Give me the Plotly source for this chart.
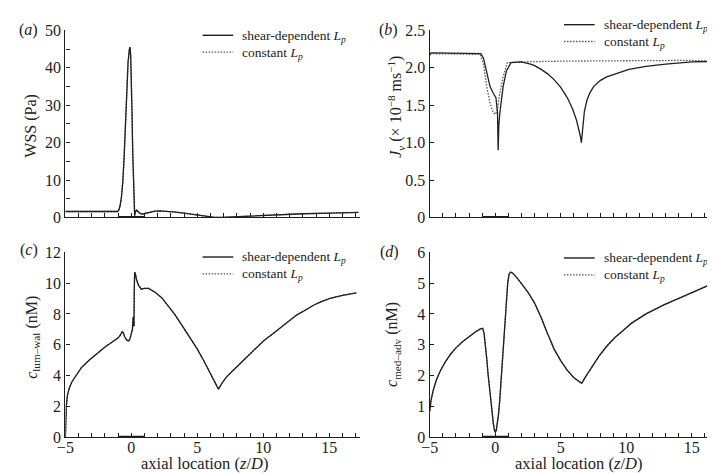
import plotly.graph_objects as go

# ---------------- data ----------------
# (a) wall shear stress (Pa)
x_a = [-5, -3, -1.05, -0.95, -0.85, -0.75, -0.65, -0.55, -0.45, -0.35, -0.25, -0.15, -0.1, -0.05,
       0.0, 0.05, 0.1, 0.15, 0.2, 0.25, 0.3, 0.4, 0.55, 0.75, 0.95, 1.3, 1.7, 2.1, 2.6, 3.2, 4.0,
       5.0, 5.8, 6.3, 6.8, 7.5, 9, 11, 13, 15, 17.2]
wss_shear = [1.6, 1.6, 1.6, 2.0, 3.2, 5.5, 9.5, 16, 25, 34, 41.5, 45, 45.5, 43,
             37, 28, 18, 9, 2.5, 0.5, 1.5, 2.0, 1.4, 0.9, 1.0, 1.35, 1.65, 1.75, 1.7, 1.5, 1.15,
             0.65, 0.25, 0.05, 0.02, 0.15, 0.45, 0.75, 1.0, 1.15, 1.35]
wss_const = wss_shear

# (b) transmural water flux Jv (x 1e-8 m/s)
x_b_shear = [-5, -4.9, -4.7, -3, -1.5, -1.1, -0.9, -0.65, -0.4, -0.15, 0.05, 0.17, 0.22, 0.27,
             0.35, 0.6, 0.85, 1.2, 1.97, 2.7, 3.0, 3.5, 4.0, 4.5, 5.0, 5.5, 5.9, 6.2, 6.4, 6.5,
             6.57, 6.63, 6.7, 6.8, 7.0, 7.2, 7.5, 8.0, 8.5, 9.3, 10.2, 11.5, 13, 15, 17.3]
jv_shear = [2.17, 2.2, 2.2, 2.2, 2.2, 2.19, 2.13, 1.92, 1.75, 1.66, 1.6, 1.4, 0.9, 1.23,
            1.4, 1.75, 1.96, 2.07, 2.08, 2.05, 2.03, 1.98, 1.92, 1.84, 1.74, 1.6, 1.45, 1.3,
            1.17, 1.08, 1.0, 1.12, 1.28, 1.42, 1.57, 1.66, 1.75, 1.83, 1.88, 1.93, 1.98, 2.02,
            2.05, 2.08, 2.09]
x_b_const = [-5, -4.9, -3, -1.5, -1.15, -0.9, -0.65, -0.4, -0.15, 0.02, 0.17, 0.35, 0.6, 0.92,
             2, 5, 10, 15, 17.3]
jv_const = [2.19, 2.19, 2.19, 2.19, 2.18, 2.05, 1.75, 1.53, 1.4, 1.38, 1.45, 1.66, 1.88, 2.07,
            2.08, 2.09, 2.1, 2.1, 2.08]

# (c) luminal wall concentration (nM)
x_c = [-5, -4.97, -4.93, -4.85, -4.7, -4.5, -4.2, -3.8, -3.2, -2.6, -2.0, -1.5, -1.0, -0.85,
       -0.7, -0.6, -0.5, -0.35, -0.2, -0.1, 0.0, 0.08, 0.14, 0.18, 0.2, 0.22, 0.25, 0.3, 0.4,
       0.55, 0.75, 1.0, 1.3, 1.8, 2.3, 2.8, 3.3, 3.8, 4.4, 5.0, 5.5, 6.0, 6.3, 6.6, 6.9, 7.2,
       7.55, 8.2, 8.8, 9.4, 10.05, 10.7, 11.3, 12.0, 12.55, 13.2, 13.8, 14.4, 15.05, 16.0, 17.05]
c_lum_shear = [0, 1.2, 2.0, 2.7, 3.2, 3.6, 4.0, 4.5, 5.0, 5.45, 5.85, 6.15, 6.45, 6.6,
               6.85, 6.75, 6.5, 6.3, 6.25, 6.4, 6.75, 7.0, 7.8, 7.3, 7.2, 9.5, 10.7, 10.6, 10.2,
               9.85, 9.6, 9.65, 9.65, 9.4, 9.05, 8.5, 7.95, 7.3, 6.55, 5.72, 4.95, 4.15, 3.65,
               3.12, 3.55, 3.9, 4.2, 4.75, 5.24, 5.75, 6.28, 6.7, 7.1, 7.55, 7.94, 8.25, 8.56,
               8.8, 9.0, 9.2, 9.36]
c_lum_const = c_lum_shear

# (d) media-adventitia concentration (nM)
x_d = [-5, -4.9, -4.75, -4.5, -4.2, -3.8, -3.4, -3.0, -2.5, -2.0, -1.5, -1.1, -0.95,
       -0.85, -0.75, -0.65, -0.55, -0.45, -0.35, -0.25, -0.15, -0.07, 0.0, 0.07, 0.15, 0.25,
       0.35, 0.45, 0.55, 0.65, 0.75, 0.85, 0.95, 1.05, 1.15, 1.3, 1.6, 2.0, 2.5, 3.0, 3.5,
       4.0, 4.5, 5.0, 5.5, 6.0, 6.3, 6.6, 6.8, 7.1, 7.5, 7.9, 8.5, 9.15, 10.0, 10.4, 11.5,
       12.9, 14.0, 15.4, 16.4, 17.3]
c_med_shear = [0.85, 1.2, 1.5, 1.85, 2.15, 2.45, 2.7, 2.9, 3.1, 3.27, 3.42, 3.52, 3.53,
               3.35, 3.0, 2.55, 2.05, 1.6, 1.15, 0.75, 0.45, 0.25, 0.16, 0.22, 0.4, 0.75,
               1.25, 1.85, 2.5, 3.2, 3.9, 4.5, 5.0, 5.28, 5.35, 5.33, 5.2, 4.98, 4.7, 4.35,
               3.88, 3.35, 2.85, 2.48, 2.17, 1.93, 1.83, 1.75, 1.9, 2.1, 2.38, 2.62, 2.95,
               3.24, 3.55, 3.7, 4.0, 4.3, 4.5, 4.75, 4.95, 5.15]
c_med_const = c_med_shear

# stenosis region marker on the axis
sten_x = [-1, 1]
sten_y = [0, 0]

legend_shear = "shear-dependent <i>L<sub>p</sub></i>"
legend_const = "constant <i>L<sub>p</sub></i>"

# ---------------- figure ----------------
W, H = 715, 473
SERIF = "Liberation Serif"
INK = "#1e1e1e"
solid = dict(color=INK, width=1.3)
dotted = dict(color="#555555", width=1.3, dash="1.5px,1.5px")

fig = go.Figure()

panels = [
    ("", x_a, wss_shear, x_a, wss_const),
    ("2", x_b_shear, jv_shear, x_b_const, jv_const),
    ("3", x_c, c_lum_shear, x_c, c_lum_const),
    ("4", x_d, c_med_shear, x_d, c_med_const),
]
for suf, xs, ys, xc, yc in panels:
    fig.add_trace(go.Scatter(x=xc, y=yc, mode="lines", line=dotted, name=legend_const,
                             xaxis="x" + suf, yaxis="y" + suf, showlegend=False,
                             cliponaxis=False))
    fig.add_trace(go.Scatter(x=xs, y=ys, mode="lines", line=solid, name=legend_shear,
                             xaxis="x" + suf, yaxis="y" + suf, showlegend=False,
                             cliponaxis=False))
    fig.add_trace(go.Scatter(x=sten_x, y=sten_y, mode="lines", line=dict(color=INK, width=3),
                             xaxis="x" + suf, yaxis="y" + suf, showlegend=False, hoverinfo="skip",
                             cliponaxis=False))

def px_x(p):
    return p / W

def px_y(p):
    return 1 - p / H

xdom_l = [px_x(49), px_x(347)]
xdom_r = [px_x(418), px_x(714)]
ydom_t = [px_y(209), px_y(15)]
ydom_b = [px_y(437), px_y(245)]

tickfont = dict(family=SERIF, size=16, color="#222")
xcommon = dict(range=[-5, 17.3], showline=True, linecolor=INK, linewidth=1.4,
               ticks="inside", ticklen=4, tickwidth=1.2, tickcolor=INK,
               tick0=0, dtick=5, showgrid=False, zeroline=False, tickfont=tickfont,
               ticklabelstandoff=-5,
               minor=dict(dtick=1, ticks="inside", ticklen=4, tickwidth=1.2, tickcolor=INK,
                          showgrid=False))
ycommon = dict(showline=True, linecolor=INK, linewidth=1.4, ticks="inside", ticklen=4,
               tickwidth=1.2, tickcolor=INK, showgrid=False, zeroline=False,
               tickfont=tickfont)

fig.update_layout(
    width=W, height=H, margin=dict(l=0, r=0, t=0, b=0),
    paper_bgcolor="white", plot_bgcolor="white", showlegend=False,
    xaxis=dict(xcommon, domain=xdom_l, anchor="y", showticklabels=False),
    yaxis=dict(ycommon, domain=ydom_t, anchor="x", range=[0, 50], tickvals=[0, 10, 20, 30, 40, 50],
               minor=dict(dtick=5, ticks="inside", ticklen=4, tickwidth=1.2, tickcolor=INK)),
    xaxis2=dict(xcommon, domain=xdom_r, anchor="y2", showticklabels=False),
    yaxis2=dict(ycommon, domain=ydom_t, anchor="x2", range=[0, 2.5],
                tickvals=[0, 0.5, 1.0, 1.5, 2.0, 2.5],
                ticktext=["0", "0.5", "1.0", "1.5", "2.0", "2.5"]),
    xaxis3=dict(xcommon, domain=xdom_l, anchor="y3", tickvals=[-5, 0, 5, 10, 15],
                ticktext=["\u22125", "0", "5", "10", "15"]),
    yaxis3=dict(ycommon, domain=ydom_b, anchor="x3", range=[0, 12], tickvals=[0, 2, 4, 6, 8, 10, 12]),
    xaxis4=dict(xcommon, domain=xdom_r, anchor="y4", tickvals=[-5, 0, 5, 10, 15],
                ticktext=["\u22125", "0", "5", "10", "15"]),
    yaxis4=dict(ycommon, domain=ydom_b, anchor="x4", range=[0, 6], tickvals=[0, 1, 2, 3, 4, 5, 6]),
)

# ---- legends (one per panel), drawn as key lines + labels ----
legend_spots = [(188, 20), (554, 9), (188, 250), (554, 251)]  # key-line left edge, first row y
ROW = 17.5
shapes = []
anns = []
legfont = dict(family=SERIF, size=13.5, color="#222")
for lx, ly in legend_spots:
    for i, (label, style) in enumerate([(legend_shear, solid), (legend_const, dotted)]):
        yy = ly + i * ROW
        shapes.append(dict(type="line", xref="paper", yref="paper",
                           x0=px_x(lx), x1=px_x(lx + 31), y0=px_y(yy), y1=px_y(yy),
                           line=dict(style, width=1.4)))
        anns.append(dict(text=label, x=px_x(lx + 38), y=px_y(yy + 1), xanchor="left",
                         yanchor="middle", font=legfont))
fig.update_layout(shapes=shapes)

annfont = dict(family=SERIF, size=16, color="#222")
labels = [
    # panel letters
    dict(text="(<i>a</i>)", x=px_x(12), y=px_y(15)),
    dict(text="(<i>b</i>)", x=px_x(376), y=px_y(15)),
    dict(text="(<i>c</i>)", x=px_x(12), y=px_y(243)),
    dict(text="(<i>d</i>)", x=px_x(377), y=px_y(245)),
    # y titles
    dict(text="WSS (Pa)", x=px_x(14), y=px_y(114), textangle=-90),
    dict(text="<i>J<sub>v</sub></i> (\u00d7 10<sup>\u22128</sup> ms<sup>\u22121</sup>)",
         x=px_x(383), y=px_y(94), textangle=-90),
    dict(text="<i>c</i><sub>lum\u2013wal</sub> (nM)", x=px_x(15), y=px_y(333), textangle=-90),
    dict(text="<i>c</i><sub>med\u2013adv</sub> (nM)", x=px_x(381), y=px_y(341), textangle=-90),
    # x titles
    dict(text="axial location (<i>z</i>/<i>D</i>)", x=px_x(190), y=px_y(464),
         font=dict(family=SERIF, size=16.5, color="#222")),
    dict(text="axial location (<i>z</i>/<i>D</i>)", x=px_x(569), y=px_y(464),
         font=dict(family=SERIF, size=16.5, color="#222")),
]
for a in labels:
    a.setdefault("font", annfont)
    a.update(xanchor="center", yanchor="middle")
anns.extend(labels)
for a in anns:
    a.update(xref="paper", yref="paper", showarrow=False)
fig.update_layout(annotations=anns)

fig.write_html("out.html")
